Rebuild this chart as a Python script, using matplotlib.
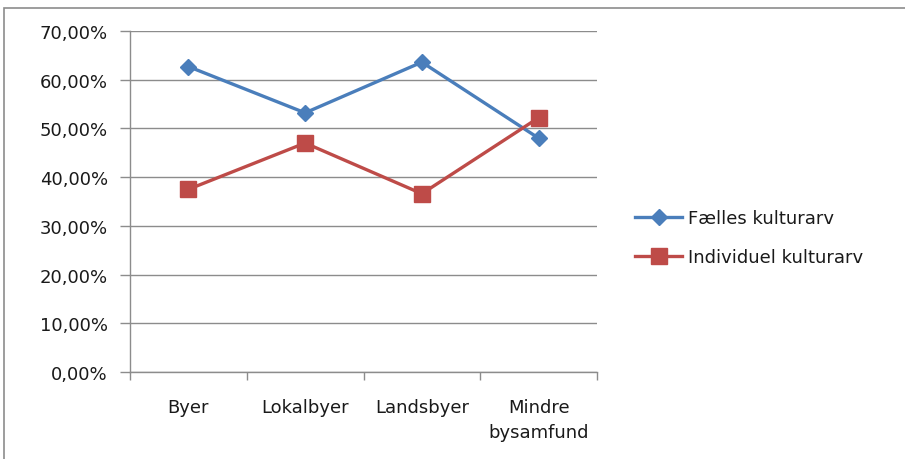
import matplotlib
matplotlib.use("Agg")
import matplotlib.pyplot as plt
from matplotlib.patches import Rectangle

categories = ["Byer", "Lokalbyer", "Landsbyer", "Mindre\nbysamfund"]
faelles = [62.7, 53.2, 63.6, 48.0]
individuel = [37.5, 47.0, 36.6, 52.2]
series_names = ["Fælles kulturarv", "Individuel kulturarv"]
yticks = [0, 10, 20, 30, 40, 50, 60, 70]

W, H = 905, 460
fig = plt.figure(figsize=(W / 100, H / 100), dpi=100)
fig.patch.set_facecolor("white")

# outer chart frame
fig.patches.append(Rectangle((4 / W, -0.05), 1.0, 1 - 9 / H + 0.05, transform=fig.transFigure,
                             fill=False, edgecolor="#8c8c8c", linewidth=1.2))

ax = fig.add_axes([130 / W, 1 - 373 / H, (597 - 130) / W, (373 - 32) / H])
x = list(range(len(categories)))
blue = "#4A7EBB"
red = "#BE4B48"
ax.plot(x, faelles, color=blue, lw=2.4, marker="D", markersize=8.5,
        markerfacecolor=blue, markeredgecolor=blue, label=series_names[0], zorder=3)
ax.plot(x, individuel, color=red, lw=2.4, marker="s", markersize=11,
        markerfacecolor=red, markeredgecolor=red, label=series_names[1], zorder=3)

ax.set_xlim(-0.5, len(categories) - 0.5)
ax.set_ylim(0, 70)
ax.set_yticks(yticks)
ax.set_yticklabels([f"{v:.2f}".replace(".", ",") + "%" for v in yticks])
ax.yaxis.grid(True, color="#8c8c8c", linewidth=1.0)
ax.set_axisbelow(True)

ax.set_xticks([i - 0.5 for i in range(len(categories) + 1)])
ax.set_xticklabels([])
ax.set_xticks(x, minor=True)
ax.set_xticklabels(categories, minor=True)
ax.tick_params(axis="x", which="minor", length=0, pad=19)
ax.tick_params(axis="x", which="major", length=6, color="#8c8c8c", width=1)
ax.tick_params(axis="y", length=7, color="#8c8c8c", width=1, pad=9)
for lab in ax.get_xticklabels(minor=True) + ax.get_yticklabels():
    lab.set_fontsize(13)
    lab.set_color("#1a1a1a")
    lab.set_family("DejaVu Sans")
    lab.set_linespacing(1.45)

for s in ["top", "right"]:
    ax.spines[s].set_visible(False)
for s in ["left", "bottom"]:
    ax.spines[s].set_color("#8c8c8c")
    ax.spines[s].set_linewidth(1.0)

leg = fig.legend(loc="upper left", bbox_to_anchor=(628 / W, 1 - 203 / H), frameon=False,
                 prop={"family": "DejaVu Sans", "size": 13},
                 handlelength=2.6, handletextpad=0.35, labelspacing=1.15,
                 borderaxespad=0)
for t in leg.get_texts():
    t.set_color("#1a1a1a")

fig.savefig("out.png", dpi=100, facecolor="white")
